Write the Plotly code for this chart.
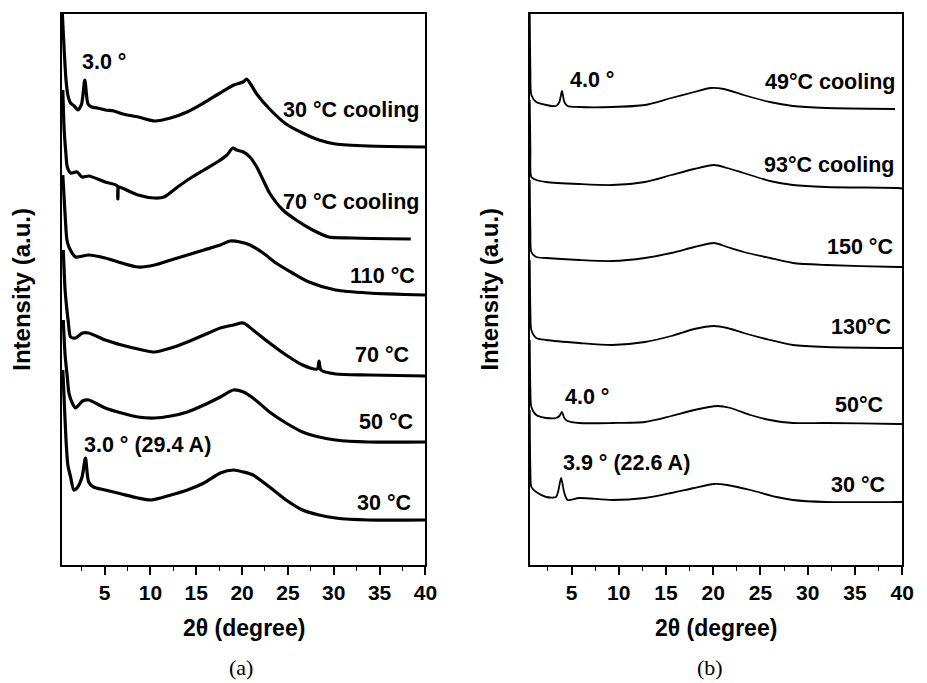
import plotly.graph_objects as go

# ---------------- Panel (a) data (2theta in degree, intensity in a.u. incl. stacking offset)
a1_x = [0.40, 0.6, 0.8, 1.0, 1.3, 1.7, 2.1, 2.5, 2.85, 3.2, 3.6, 4.2, 5.1, 6.0, 7.0, 8.7, 10.5, 12.2, 14.0, 15.8, 17.6, 19.1, 20.1, 20.5, 21.0, 21.6, 23.0, 24.8, 26.6, 28.4, 30.2, 33.8, 40.0]
a1_y = [551, 515, 485, 470, 462, 459, 455, 461, 485, 461, 458, 457, 455, 454, 451, 448, 444, 447, 453, 462, 472, 480, 483, 486, 480, 471, 456, 441, 432, 425, 421, 419, 418]

a2_x = [0.45, 0.6, 0.8, 0.94, 1.3, 2.0, 2.55, 3.3, 5.07, 6.4, 6.45, 6.5, 6.9, 8.66, 10.46, 11.5, 12.97, 14.4, 15.84, 17.3, 18.35, 19.0, 19.4, 20.15, 20.85, 21.6, 22.3, 23.0, 24.45, 25.9, 27.7, 29.45, 32.0, 38.4]
a2_y = [475, 435, 410, 398, 392, 393, 388, 389, 383, 379, 366, 378, 377, 370, 367, 368, 378, 387, 395, 403, 410, 417, 415, 413, 408, 398, 385, 372, 355, 345, 335, 328, 327, 326]

a3_x = [0.45, 0.7, 0.9, 1.12, 1.84, 3.27, 5.07, 6.86, 8.66, 10.46, 12.24, 14.04, 15.84, 17.63, 18.7, 19.8, 20.86, 22.3, 23.7, 25.5, 27.3, 30.2, 33.75, 40.0]
a3_y = [390, 350, 325, 318, 308, 310, 307, 302, 298, 300, 305, 310, 315, 320, 324, 323, 320, 312, 302, 292, 283, 275, 272, 270]

a4_x = [0.5, 0.7, 0.9, 1.05, 1.3, 1.84, 2.6, 3.27, 5.07, 6.86, 8.66, 10.46, 12.24, 14.04, 15.84, 17.63, 19.07, 20.15, 21.2, 23.0, 24.8, 26.6, 28.2, 28.4, 28.6, 30.2, 33.8, 40.0]
a4_y = [315, 275, 255, 243, 228, 227, 232, 232, 225, 220, 216, 213, 217, 223, 230, 237, 240, 242, 235, 222, 210, 200, 196, 204, 195, 191, 190, 189]

a5_x = [0.5, 0.7, 0.94, 1.12, 1.48, 1.84, 2.6, 3.27, 5.07, 6.86, 8.66, 10.46, 12.24, 14.04, 15.84, 17.63, 19.07, 20.15, 21.2, 23.0, 24.8, 26.6, 28.4, 30.2, 33.8, 40.0]
a5_y = [245, 210, 188, 172, 162, 157, 164, 165, 157, 152, 148, 147, 149, 153, 160, 168, 175, 173, 167, 153, 142, 133, 128, 125, 123, 123]

a6_x = [0.45, 0.6, 0.8, 1.0, 1.3, 1.66, 2.0, 2.55, 2.92, 3.27, 3.8, 5.07, 6.86, 8.66, 10.1, 12.24, 14.04, 15.84, 17.63, 19.07, 20.15, 21.2, 23.0, 24.8, 26.6, 28.4, 30.2, 33.8, 40.0]
a6_y = [195, 165, 125, 100, 88, 75, 77, 88, 107, 83, 78, 75, 71, 67, 65, 70, 75, 82, 92, 95, 93, 90, 78, 65, 55, 50, 47, 45, 45]

# ---------------- Panel (b) data
b1_x = [0.58, 0.65, 0.75, 1.27, 2.32, 3.36, 3.72, 3.99, 4.24, 4.59, 5.81, 9.29, 12.77, 15.56, 17.99, 19.73, 21.13, 23.22, 26.0, 28.44, 31.93, 39.24]
b1_y = [551, 495, 470, 463, 460, 459, 463, 474, 463, 459, 458, 458, 460, 467, 473, 477, 476, 470, 463, 459, 457, 456]

b2_x = [0.58, 0.65, 0.75, 1.27, 2.32, 5.81, 9.29, 12.77, 15.56, 17.99, 20.08, 21.48, 23.22, 26.0, 28.44, 31.93, 39.59, 40.0]
b2_y = [465, 415, 388, 385, 383, 381, 380, 383, 390, 396, 400, 397, 392, 384, 380, 378, 377, 376.5]

b3_x = [0.58, 0.65, 0.75, 1.27, 2.32, 5.81, 9.29, 12.77, 15.56, 17.99, 20.08, 21.48, 23.22, 26.0, 28.44, 31.93, 39.59, 40.0]
b3_y = [385, 335, 313, 308, 307, 305, 304, 307, 312, 318, 322, 318, 313, 307, 302, 300, 298, 298]

b4_x = [0.58, 0.65, 0.75, 1.27, 2.32, 5.81, 9.29, 12.77, 15.56, 17.99, 20.08, 21.48, 23.22, 26.0, 28.44, 31.93, 39.59, 40.0]
b4_y = [305, 255, 235, 227, 225, 222, 220, 223, 229, 236, 239, 237, 232, 225, 220, 218, 217, 217]

b5_x = [0.58, 0.65, 0.75, 1.27, 2.32, 3.36, 3.72, 3.99, 4.24, 4.59, 5.81, 9.29, 12.77, 15.56, 17.99, 20.44, 21.83, 23.94, 26.0, 28.44, 31.93, 39.59, 40.0]
b5_y = [225, 175, 158, 150, 147, 147, 149, 153, 147, 144, 142, 142, 143, 149, 155, 159, 157, 150, 145, 142, 142, 141, 141]

b6_x = [0.58, 0.65, 0.75, 1.27, 2.32, 3.36, 3.6, 3.9, 4.24, 4.59, 5.81, 9.29, 12.77, 15.56, 17.99, 20.08, 21.48, 23.94, 26.7, 28.44, 31.93, 39.59, 40.0]
b6_y = [155, 95, 78, 73, 68, 68, 74, 87, 72, 65, 67, 65, 67, 72, 77, 81, 80, 75, 68, 65, 63, 63, 63]

tick_vals = [5, 10, 15, 20, 25, 30, 35, 40]
tick_text = ["5", "10", "15", "20", "25", "30", "35", "40"]

labels_a = [("30 °C cooling", 39.57, 455), ("70 °C cooling", 39.57, 363), ("110 °C", 39.13, 289),
            ("70 °C", 38.46, 210), ("50 °C", 38.81, 143), ("30 °C", 38.7, 62)]
peaks_a = [("3.0 °", 2.38, 503), ("3.0 ° (29.4 A)", 2.55, 120)]
labels_b = [("49°C cooling", 39.41, 483), ("93°C cooling", 39.38, 400), ("150 °C", 39.24, 318),
            ("130°C", 39.07, 238), ("50°C", 38.2, 160), ("30 °C", 38.37, 80)]
peaks_b = [("4.0 °", 4.6, 485), ("4.0 °", 4.08, 168), ("3.9 ° (22.6 A)", 3.9, 102)]

FONT = "Liberation Sans, Arial, sans-serif"

fig = go.Figure()
for xs, ys in [(a1_x, a1_y), (a2_x, a2_y), (a3_x, a3_y), (a4_x, a4_y), (a5_x, a5_y), (a6_x, a6_y)]:
    fig.add_trace(go.Scatter(x=xs, y=ys, mode="lines",
                             line=dict(color="black", width=3.2, shape="spline", smoothing=0.7),
                             xaxis="x", yaxis="y", showlegend=False))
for xs, ys in [(b1_x, b1_y), (b2_x, b2_y), (b3_x, b3_y), (b4_x, b4_y), (b5_x, b5_y), (b6_x, b6_y)]:
    fig.add_trace(go.Scatter(x=xs, y=ys, mode="lines",
                             line=dict(color="black", width=1.8, shape="spline", smoothing=0.7),
                             xaxis="x2", yaxis="y2", showlegend=False))

W, H = 927, 683
top, bottom = 14, 565

xcommon = dict(showline=True, mirror=True, linecolor="black", linewidth=1.5, showgrid=False,
               zeroline=False, ticks="outside", ticklen=8, tickwidth=1.5, tickcolor="black",
               tickvals=tick_vals, ticktext=tick_text,
               tickfont=dict(family=FONT, size=21, color="black", weight="bold"),
               minor=dict(ticks="outside", ticklen=4, tickwidth=1.2, tickcolor="black",
                          tick0=0, dtick=2.5, showgrid=False))
ycommon = dict(showline=True, mirror=True, linecolor="black", linewidth=1.5, showgrid=False,
               zeroline=False, showticklabels=False, ticks="", range=[0, bottom - top])

fig.update_layout(
    width=W, height=H, margin=dict(l=0, r=0, t=0, b=0),
    paper_bgcolor="white", plot_bgcolor="white",
    xaxis=dict(domain=[62.7 / W, 431 / W], range=[0.35, 40], anchor="y", **xcommon),
    yaxis=dict(domain=[1 - bottom / H, 1 - top / H], anchor="x", **ycommon),
    xaxis2=dict(domain=[536.5 / W, 914 / W], range=[0.56, 40], anchor="y2", **xcommon),
    yaxis2=dict(domain=[1 - bottom / H, 1 - top / H], anchor="x2", **ycommon),
)

ann = []
lab_font = dict(family=FONT, size=21.5, color="black", weight="bold")
for t, x, y in labels_a:
    ann.append(dict(text=t, x=x, y=y, xref="x", yref="y", xanchor="right", yanchor="middle",
                    showarrow=False, font=lab_font))
for t, x, y in peaks_a:
    ann.append(dict(text=t, x=x, y=y, xref="x", yref="y", xanchor="left", yanchor="middle",
                    showarrow=False, font=lab_font))
for t, x, y in labels_b:
    ann.append(dict(text=t, x=x, y=y, xref="x2", yref="y2", xanchor="right", yanchor="middle",
                    showarrow=False, font=lab_font))
for t, x, y in peaks_b:
    ann.append(dict(text=t, x=x, y=y, xref="x2", yref="y2", xanchor="left", yanchor="middle",
                    showarrow=False, font=lab_font))

title_font = dict(family=FONT, size=23, color="black", weight="bold")
for cx in [247 / W, 725 / W]:
    ann.append(dict(text="2θ (degree)", x=cx, y=1 - 628 / H, xref="paper", yref="paper",
                    xanchor="center", yanchor="middle", showarrow=False, font=title_font))
for cx in [22 / W, 496 / W]:
    ann.append(dict(text="Intensity (a.u.)", x=cx, y=1 - 289 / H, xref="paper", yref="paper",
                    xanchor="center", yanchor="middle", showarrow=False, textangle=-90,
                    font=dict(family=FONT, size=24, color="black", weight="bold")))
for t, cx in [("(a)", 244 / W), ("(b)", 719 / W)]:
    ann.append(dict(text=t, x=cx, y=1 - 667 / H, xref="paper", yref="paper",
                    xanchor="center", yanchor="middle", showarrow=False,
                    font=dict(family="Liberation Serif, Times New Roman, serif", size=22, color="black")))
fig.update_layout(annotations=ann)

fig.write_html("out.html")
